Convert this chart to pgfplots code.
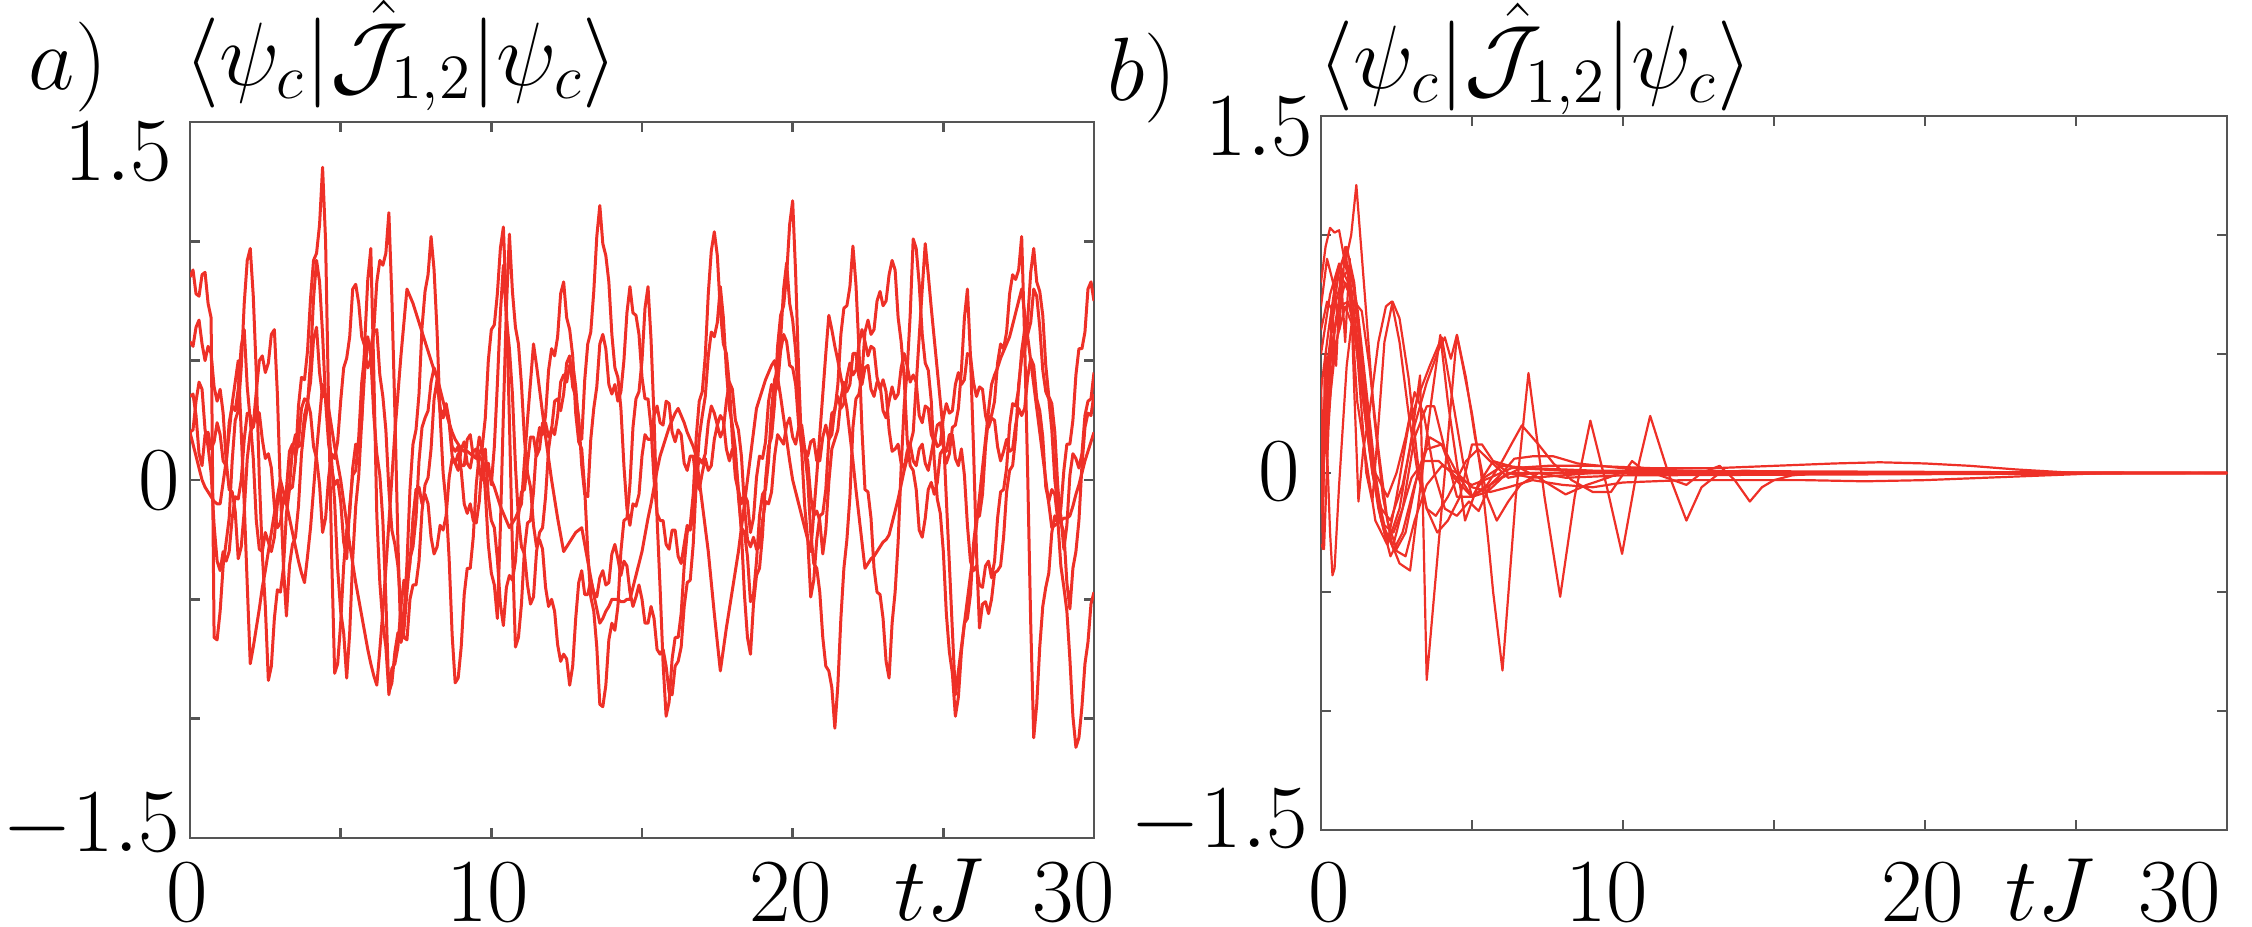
\RequirePackage{fix-cm}
\documentclass[border=0pt]{standalone}
\usepackage{pgfplots}
\usepackage{pgfplotstable}
\pgfplotsset{compat=1.18}
\definecolor{trajred}{RGB}{238,48,39}
\definecolor{framegray}{RGB}{85,85,85}
\newcommand{\lbl}{\fontsize{22.5}{27}\selectfont}
\pgfplotscreateplotcyclelist{redthick}{draw=trajred,line width=0.75pt,mark=none,line join=round\\}
\pgfplotscreateplotcyclelist{redthin}{draw=trajred,line width=0.55pt,mark=none,line join=round\\}

% five trajectories of <J_{1,2}> for the chaotic case, sampled every 0.1 in tJ
\pgfplotstableread{
t A B C D E
0.0 0.85 0.58 0.20 0.35 0.20
0.1 0.88 0.56 0.15 0.36 0.21
0.2 0.78 0.64 0.10 0.27 0.33
0.3 0.77 0.67 0.05 0.11 0.41
0.4 0.86 0.57 0.00 0.06 0.38
0.5 0.87 0.50 -0.03 0.19 0.21
0.6 0.74 0.56 -0.05 0.20 0.14
0.7 0.68 0.53 -0.07 0.13 0.03
0.8 -0.66 0.39 -0.09 0.16 -0.19
0.9 -0.67 0.33 -0.10 0.24 -0.34
1.0 -0.55 0.38 -0.10 0.19 -0.38
1.1 -0.36 0.28 -0.01 0.08 -0.30
1.2 -0.26 0.08 0.08 0.06 -0.34
1.3 -0.16 -0.04 0.20 0.24 -0.30
1.4 0.08 -0.05 0.32 0.31 -0.16
1.5 0.25 -0.13 0.41 0.29 -0.07
1.6 0.29 -0.33 0.50 0.38 -0.08
1.7 0.47 -0.28 0.20 0.56 0.00
1.8 0.74 -0.13 -0.10 0.63 0.17
1.9 0.92 0.09 -0.44 0.39 0.28
2.0 0.97 0.20 -0.77 0.25 0.27
2.1 0.77 0.23 -0.70 0.09 0.22
2.2 0.45 0.37 -0.62 -0.17 0.29
2.3 0.01 0.50 -0.54 -0.29 0.28
2.4 -0.31 0.52 -0.45 -0.30 0.17
2.5 -0.53 0.45 -0.38 -0.22 0.09
2.6 -0.84 0.49 -0.30 -0.26 0.11
2.7 -0.78 0.61 -0.22 -0.30 0.05
2.8 -0.58 0.63 -0.14 -0.24 -0.11
2.9 -0.46 0.36 -0.07 -0.10 -0.20
3.0 -0.47 -0.04 0.00 -0.06 -0.18
3.1 -0.37 -0.36 -0.05 -0.10 -0.08
3.2 -0.14 -0.57 -0.10 -0.04 -0.09
3.3 -0.04 -0.36 -0.16 0.12 -0.03
3.4 -0.03 -0.27 -0.22 0.15 0.13
3.5 0.08 -0.24 -0.28 0.10 0.19
3.6 0.31 -0.11 -0.34 0.16 0.14
3.7 0.43 0.11 -0.39 0.30 0.15
3.8 0.42 0.23 -0.43 0.34 0.27
3.9 0.54 0.31 -0.32 0.33 0.33
4.0 0.76 0.50 -0.20 0.41 0.28
4.1 0.92 0.76 -0.04 0.59 0.14
4.2 0.95 0.92 0.12 0.64 0.09
4.3 1.07 0.83 0.26 0.45 -0.02
4.4 1.31 0.61 0.40 0.35 -0.22
4.5 1.00 0.33 0.35 0.35 -0.16
4.6 0.31 0.15 0.30 0.24 0.01
4.7 -0.31 0.08 0.22 0.05 0.11
4.8 -0.81 -0.09 0.14 -0.02 0.09
4.9 -0.77 -0.37 0.07 0.00 0.16
5.0 -0.60 -0.55 0.00 -0.09 0.33
5.1 -0.36 -0.64 -0.09 -0.26 0.47
5.2 -0.21 -0.83 -0.18 -0.33 0.51
5.3 -0.14 -0.64 -0.27 -0.11 0.60
5.4 0.05 -0.33 -0.35 0.02 0.80
5.5 0.15 -0.11 -0.43 0.04 0.82
5.6 0.14 0.02 -0.50 0.18 0.74
5.7 0.25 0.25 -0.57 0.41 0.60
5.8 0.46 0.58 -0.64 0.53 0.56
5.9 0.57 0.84 -0.71 0.47 0.60
6.0 0.55 0.97 -0.77 0.51 0.52
6.1 0.63 0.45 -0.82 0.62 0.27
6.2 0.83 -0.15 -0.86 0.63 0.11
6.3 0.92 -0.43 -0.71 0.44 0.02
6.4 0.90 -0.60 -0.55 0.35 -0.17
6.5 0.95 -0.70 -0.37 0.21 -0.50
6.6 1.12 -0.89 -0.18 -0.04 -0.90
6.7 0.76 -0.85 0.01 -0.21 -0.79
6.8 0.28 -0.72 0.20 -0.27 -0.77
6.9 -0.26 -0.64 0.36 -0.36 -0.70
7.0 -0.68 -0.68 0.52 -0.54 -0.53
7.1 -0.58 -0.63 0.66 -0.66 -0.42
7.2 -0.35 -0.47 0.80 -0.67 -0.43
7.3 -0.04 -0.33 0.77 -0.50 -0.35
7.4 0.15 -0.28 0.74 -0.44 -0.16
7.5 0.21 -0.16 0.70 -0.44 -0.04
7.6 0.36 0.08 0.66 -0.34 -0.03
7.7 0.64 0.22 0.62 -0.13 -0.10
7.8 0.79 0.26 0.58 -0.02 -0.06
7.9 0.86 0.29 0.54 0.01 -0.10
8.0 1.02 0.41 0.50 0.13 -0.24
8.1 0.88 0.47 0.46 0.34 -0.31
8.2 0.62 0.43 0.43 0.42 -0.28
8.3 0.27 0.30 0.38 0.29 -0.19
8.4 0.03 0.27 0.33 0.26 -0.21
8.5 -0.10 0.32 0.28 0.30 -0.15
8.6 -0.33 0.25 0.24 0.24 0.01
8.7 -0.65 0.14 0.20 0.10 0.09
8.8 -0.85 0.12 0.17 0.07 0.07
8.9 -0.83 0.14 0.15 0.11 0.04
9.0 -0.70 0.06 0.13 0.04 0.13
9.1 -0.48 0.06 0.12 -0.10 0.16
9.2 -0.37 0.17 0.12 -0.14 0.07
9.3 -0.37 0.19 0.11 -0.10 0.05
9.4 -0.24 0.10 0.10 -0.17 0.12
9.5 -0.02 0.09 0.10 -0.18 0.13
9.6 0.11 0.18 0.10 -0.09 0.04
9.7 0.14 0.13 0.08 0.08 0.00
9.8 0.26 -0.05 0.05 0.13 0.06
9.9 0.50 -0.27 0.03 -0.07 0.07
10.0 0.63 -0.39 0.00 -0.17 -0.02
10.1 0.65 -0.44 -0.03 -0.20 0.14
10.2 0.78 -0.58 -0.07 -0.33 0.40
10.3 0.97 -0.20 -0.11 -0.52 0.70
10.4 1.06 0.28 -0.14 -0.61 0.90
10.5 0.72 0.72 -0.17 -0.45 0.68
10.6 0.25 1.03 -0.20 -0.40 0.55
10.7 -0.29 0.79 -0.18 -0.42 0.36
10.8 -0.70 0.64 -0.16 -0.34 0.06
10.9 -0.66 0.57 -0.13 -0.15 -0.16
11.0 -0.52 0.40 -0.10 -0.05 -0.28
11.1 -0.29 0.17 0.08 -0.04 -0.31
11.2 -0.18 0.03 0.25 0.07 -0.44
11.3 -0.17 -0.03 0.41 0.18 -0.52
11.4 -0.05 -0.19 0.57 0.18 -0.49
11.5 0.14 -0.28 0.48 0.10 -0.30
11.6 0.22 -0.25 0.38 0.13 -0.22
11.7 0.19 -0.29 0.28 0.24 -0.20
11.8 0.27 -0.45 0.18 0.24 -0.07
11.9 0.46 -0.53 0.09 0.18 0.13
12.0 0.55 -0.50 0.00 0.21 0.22
12.1 0.52 -0.55 -0.08 0.33 0.19
12.2 0.60 -0.69 -0.16 0.34 0.27
12.3 0.78 -0.76 -0.23 0.29 0.41
12.4 0.83 -0.73 -0.30 0.36 0.44
12.5 0.68 -0.75 -0.28 0.49 0.41
12.6 0.63 -0.86 -0.26 0.52 0.48
12.7 0.52 -0.78 -0.24 0.39 0.49
12.8 0.28 -0.58 -0.22 0.35 0.39
12.9 0.16 -0.43 -0.21 0.26 0.23
13.0 0.13 -0.38 -0.20 0.06 0.17
13.1 -0.04 -0.48 -0.27 -0.06 0.42
13.2 -0.30 -0.48 -0.34 -0.07 0.57
13.3 -0.49 -0.42 -0.41 0.17 0.62
13.4 -0.55 -0.47 -0.48 0.30 0.79
13.5 -0.70 -0.49 -0.54 0.39 1.02
13.6 -0.94 -0.41 -0.60 0.57 1.15
13.7 -0.95 -0.38 -0.58 0.61 0.99
13.8 -0.86 -0.44 -0.55 0.55 0.94
13.9 -0.67 -0.43 -0.53 0.40 0.83
14.0 -0.60 -0.31 -0.50 0.36 0.61
14.1 -0.63 -0.27 -0.50 0.40 0.47
14.2 -0.53 -0.33 -0.50 0.33 0.43
14.3 -0.30 -0.40 -0.51 0.37 0.30
14.4 -0.17 -0.34 -0.51 0.50 0.06
14.5 -0.16 -0.36 -0.50 0.70 -0.12
14.6 -0.02 -0.47 -0.50 0.81 -0.19
14.7 0.22 -0.53 -0.45 0.70 -0.10
14.8 0.34 -0.49 -0.40 0.69 -0.11
14.9 0.37 -0.44 -0.35 0.61 -0.06
15.0 0.50 -0.50 -0.30 0.43 0.10
15.1 0.72 -0.60 -0.23 0.34 0.19
15.2 0.81 -0.60 -0.16 0.34 0.17
15.3 0.59 -0.53 -0.10 0.22 0.17
15.4 0.26 -0.58 -0.03 0.00 0.27
15.5 -0.16 -0.71 0.04 -0.14 0.31
15.6 -0.45 -0.73 0.10 -0.17 0.24
15.7 -0.77 -0.71 0.14 -0.17 0.23
15.8 -0.99 -0.78 0.18 -0.27 0.33
15.9 -0.93 -0.89 0.22 -0.29 0.32
16.0 -0.75 -0.90 0.25 -0.21 0.20
16.1 -0.66 -0.78 0.28 -0.21 0.16
16.2 -0.66 -0.76 0.30 -0.32 0.21
16.3 -0.56 -0.70 0.27 -0.35 0.19
16.4 -0.36 -0.53 0.24 -0.27 0.07
16.5 -0.22 -0.43 0.20 -0.19 0.04
16.6 -0.19 -0.42 0.17 -0.21 0.10
16.7 -0.06 -0.27 0.14 -0.15 0.10
16.8 0.18 -0.01 0.10 0.01 -0.01
16.9 0.33 0.18 0.00 0.09 -0.04
17.0 0.37 0.27 -0.10 0.07 0.03
17.1 0.52 0.35 -0.20 0.11 0.09
17.2 0.78 0.52 -0.30 0.24 0.04
17.3 0.96 0.62 -0.43 0.31 0.06
17.4 1.04 0.60 -0.56 0.28 0.17
17.5 0.94 0.66 -0.68 0.23 0.23
17.6 0.71 0.81 -0.80 0.27 0.18
17.7 0.57 0.68 -0.71 0.25 0.21
17.8 0.53 0.46 -0.62 0.13 0.33
17.9 0.40 0.30 -0.54 0.08 0.41
18.0 0.17 0.23 -0.46 0.13 0.38
18.1 0.01 0.13 -0.38 0.10 0.25
18.2 -0.05 -0.07 -0.30 -0.04 0.21
18.3 -0.22 -0.20 -0.20 -0.10 0.10
18.4 -0.48 -0.22 -0.10 -0.06 -0.11
18.5 -0.66 -0.32 0.00 -0.09 -0.25
18.6 -0.73 -0.51 0.10 -0.22 -0.28
18.7 -0.52 -0.48 0.20 -0.16 -0.24
18.8 -0.40 -0.34 0.30 0.01 -0.29
18.9 -0.37 -0.15 0.34 0.10 -0.28
19.0 -0.23 -0.06 0.38 0.09 -0.17
19.1 0.00 -0.04 0.42 0.16 -0.09
19.2 0.14 0.08 0.45 0.33 -0.10
19.3 0.18 0.30 0.48 0.40 -0.05
19.4 0.32 0.42 0.50 0.36 0.10
19.5 0.56 0.46 0.43 0.40 0.19
19.6 0.69 0.59 0.35 0.54 0.17
19.7 0.73 0.80 0.26 0.61 0.15
19.8 0.86 0.91 0.17 0.58 0.23
19.9 1.07 0.74 0.08 0.48 0.26
20.0 1.17 0.67 0.00 0.47 0.18
20.1 0.86 0.54 -0.05 0.40 0.15
20.2 0.45 0.31 -0.10 0.23 0.22
20.3 0.12 0.17 -0.15 0.13 0.23
20.4 -0.11 0.12 -0.20 0.12 0.13
20.5 -0.25 0.00 -0.25 0.08 0.10
20.6 -0.49 -0.22 -0.30 -0.07 0.16
20.7 -0.42 -0.35 -0.14 -0.15 0.17
20.8 -0.25 -0.37 0.02 -0.13 0.08
20.9 -0.15 -0.47 0.19 -0.17 0.08
21.0 -0.14 -0.66 0.36 -0.31 0.18
21.1 -0.04 -0.78 0.53 -0.21 0.23
21.2 0.17 -0.80 0.69 -0.01 0.17
21.3 0.28 -0.87 0.63 0.13 0.19
21.4 0.29 -1.04 0.56 0.17 0.30
21.5 0.40 -0.86 0.50 0.21 0.35
21.6 0.61 -0.58 0.43 0.34 0.30
21.7 0.72 -0.37 0.37 0.41 0.32
21.8 0.73 -0.25 0.30 0.37 0.43
21.9 0.81 -0.07 0.19 0.40 0.49
22.0 0.98 0.22 0.08 0.53 0.44
22.1 0.82 0.34 -0.04 0.53 0.46
22.2 0.55 0.36 -0.15 0.43 0.57
22.3 0.21 0.44 -0.26 0.40 0.63
22.4 -0.04 0.62 -0.37 0.47 0.58
22.5 -0.05 0.67 -0.35 0.48 0.52
22.6 -0.16 0.61 -0.33 0.38 0.56
22.7 -0.37 0.63 -0.32 0.35 0.55
22.8 -0.47 0.75 -0.30 0.41 0.43
22.9 -0.48 0.79 -0.28 0.40 0.38
23.0 -0.58 0.73 -0.26 0.29 0.42
23.1 -0.76 0.75 -0.25 0.26 0.37
23.2 -0.83 0.86 -0.23 0.33 0.21
23.3 -0.60 0.92 -0.18 0.39 0.12
23.4 -0.47 0.88 -0.13 0.34 0.13
23.5 -0.26 0.68 -0.08 0.36 0.15
23.6 0.05 0.58 -0.02 0.47 0.07
23.7 0.31 0.43 0.04 0.53 0.05
23.8 0.46 0.17 0.09 0.48 0.12
23.9 0.69 0.06 0.15 0.41 0.15
24.0 1.01 0.04 0.20 0.44 0.08
24.1 0.97 -0.04 0.40 0.41 0.06
24.2 0.82 -0.21 0.60 0.27 0.13
24.3 0.61 -0.24 0.80 0.24 0.15
24.4 0.49 -0.16 0.99 0.31 0.07
24.5 0.46 -0.04 0.86 0.30 0.04
24.6 0.33 -0.01 0.72 0.19 0.11
24.7 0.08 -0.06 0.59 0.16 0.18
24.8 -0.08 -0.01 0.46 0.23 0.14
24.9 -0.14 0.11 0.33 0.24 0.15
25.0 -0.30 0.13 0.20 0.14 0.26
25.1 -0.56 0.07 -0.08 0.12 0.32
25.2 -0.72 0.11 -0.35 0.19 0.28
25.3 -0.81 0.22 -0.63 0.19 0.29
25.4 -0.99 0.23 -0.90 0.09 0.40
25.5 -0.91 0.30 -0.80 0.06 0.45
25.6 -0.72 0.46 -0.70 0.13 0.40
25.7 -0.60 0.68 -0.60 0.02 0.42
25.8 -0.58 0.80 -0.50 -0.19 0.53
25.9 -0.48 0.52 -0.40 -0.34 0.52
26.0 -0.27 0.14 -0.30 -0.38 0.41
26.1 -0.16 -0.30 -0.19 -0.36 0.35
26.2 -0.15 -0.62 -0.07 -0.44 0.39
26.3 -0.06 -0.52 0.05 -0.45 0.38
26.4 0.14 -0.51 0.17 -0.36 0.27
26.5 0.26 -0.56 0.29 -0.34 0.22
26.6 0.27 -0.50 0.40 -0.41 0.26
26.7 0.33 -0.39 0.44 -0.34 0.25
26.8 0.49 -0.38 0.47 -0.16 0.14
26.9 0.57 -0.36 0.51 -0.05 0.08
27.0 0.55 -0.24 0.54 -0.04 0.12
27.1 0.62 -0.05 0.57 0.05 0.17
27.2 0.78 0.04 0.60 0.23 0.12
27.3 0.86 0.06 0.65 0.32 0.13
27.4 0.84 0.18 0.70 0.31 0.23
27.5 0.88 0.40 0.75 0.38 0.30
27.6 1.02 0.51 0.80 0.54 0.27
27.7 0.58 0.54 0.70 0.63 0.30
27.8 0.02 0.67 0.60 0.61 0.43
27.9 -0.60 0.87 0.50 0.66 0.51
28.0 -1.08 0.97 0.40 0.80 0.48
28.1 -0.94 0.83 0.30 0.77 0.34
28.2 -0.70 0.79 0.20 0.64 0.29
28.3 -0.53 0.69 0.10 0.46 0.18
28.4 -0.45 0.48 0.00 0.37 -0.03
28.5 -0.39 0.35 -0.10 0.34 -0.09
28.6 -0.22 0.32 -0.20 0.21 -0.04
28.7 -0.15 0.20 -0.19 0.00 -0.06
28.8 -0.18 -0.03 -0.18 -0.11 -0.17
28.9 -0.12 -0.18 -0.17 -0.15 -0.36
29.0 0.04 -0.22 -0.16 -0.29 -0.45
29.1 0.15 -0.43 -0.16 -0.19 -0.55
29.2 0.15 -0.54 -0.15 0.02 -0.75
29.3 0.25 -0.37 -0.11 0.11 -0.99
29.4 0.44 -0.30 -0.06 0.09 -1.12
29.5 0.55 -0.17 -0.02 0.05 -1.08
29.6 0.55 0.06 0.03 0.11 -0.95
29.7 0.62 0.22 0.08 0.27 -0.77
29.8 0.80 0.28 0.12 0.33 -0.68
29.9 0.83 0.27 0.16 0.34 -0.52
30.0 0.75 0.36 0.20 0.45 -0.47
}\chaotic

\pgfplotsset{
  panel/.style={
    scale only axis, anchor=south west,
    xmin=0, xmax=30, ymin=-1.5, ymax=1.5,
    xtick={0,5,...,30}, ytick={-1.5,-1,...,1.5},
    xticklabel=\empty, yticklabel=\empty,
    tick align=inside, tick pos=both, major tick length=2.6pt,
    axis line style={draw=framegray, line width=0.7pt},
    tick style={draw=framegray, line width=0.7pt},
    clip=true,
  },
}

\begin{document}
\begin{tikzpicture}[every node/.style={inner sep=0pt, outer sep=0pt, font=\lbl}]
\path[use as bounding box] (0,0) rectangle (563pt,231.75pt);

% a) chaotic dynamics
\begin{axis}[panel, cycle list name=redthick, at={(47.5pt,22.25pt)}, width=226pt, height=179pt]
\addplot table[x=t, y=A] {\chaotic};
\addplot table[x=t, y=B] {\chaotic};
\addplot table[x=t, y=C] {\chaotic};
\addplot table[x=t, y=D] {\chaotic};
\addplot table[x=t, y=E] {\chaotic};
\end{axis}

% b) decaying dynamics
\begin{axis}[panel, cycle list name=redthin, at={(330.25pt,24.25pt)}, width=226.5pt, height=178.5pt]
\addplot coordinates {(0,0.35) (0.25,0.6) (0.5,0.82) (0.75,0.9) (1.0,0.78) (1.3,0.45) (1.6,0.1) (1.9,-0.15) (2.2,-0.3) (2.6,-0.15) (3.0,0.15) (3.28,0.41) (3.5,-0.87) (3.9,-0.29) (4.5,0.58) (5.0,0.25) (5.3,0.0) (5.55,-0.3) (5.7,-0.5) (6.01,-0.83) (6.45,-0.1) (6.87,0.42) (7.4,-0.1) (7.92,-0.52) (8.4,-0.1) (8.92,0.22) (9.45,-0.05) (9.97,-0.34) (10.45,0.0) (10.9,0.24) (11.5,0.0) (12.1,-0.2) (12.6,-0.06) (13.2,0.0) (14,0.01) (16,0) (30,0)};
\addplot coordinates {(0,0.80) (0.15,0.95) (0.3,1.03) (0.45,1.01) (0.6,1.02) (0.8,0.88) (1.0,1.0) (1.17,1.21) (1.45,0.75) (1.75,0.25) (2.05,-0.1) (2.35,-0.3) (2.6,-0.38) (2.95,-0.41) (3.3,-0.05) (3.65,0.3) (3.95,0.58) (4.2,0.3) (4.6,-0.05) (4.77,-0.2) (5.2,-0.05) (5.7,0.05) (6.5,0.02) (8,0.01) (12,0) (30,0)};
\addplot coordinates {(0,-0.3) (0.1,-0.32) (0.25,0.2) (0.45,0.6) (0.7,0.82) (0.95,0.86) (1.2,0.7) (1.5,0.35) (1.8,0.0) (2.1,-0.25) (2.4,-0.3) (2.7,-0.15) (3.1,0.15) (3.5,0.28) (3.75,0.28) (4.1,0.1) (4.5,-0.1) (5.0,-0.1) (5.4,-0.02) (6.0,0.03) (7.0,0.02) (9,0.01) (30,0)};
\addplot coordinates {(0,0.25) (0.06,-0.32) (0.12,0.4) (0.2,0.1) (0.3,-0.25) (0.38,-0.43) (0.45,-0.4) (0.6,-0.05) (0.85,0.45) (1.1,0.72) (1.35,0.68) (1.6,0.45) (1.9,0.1) (2.2,-0.2) (2.5,-0.32) (2.8,-0.25) (3.2,0.0) (3.6,0.15) (4.0,0.12) (4.4,-0.02) (5.0,-0.1) (5.6,-0.05) (6.2,0.0) (8,0.0) (30,0)};
\addplot coordinates {(0,0.5) (0.3,0.75) (0.6,0.88) (0.9,0.8) (1.2,0.5) (1.5,0.0) (1.7,-0.12) (1.9,0.2) (2.1,0.55) (2.37,0.72) (2.6,0.65) (2.9,0.4) (3.2,0.05) (3.5,-0.15) (3.8,-0.18) (4.2,-0.1) (4.8,0.05) (5.2,0.1) (5.6,0.05) (6.2,-0.02) (7,0.0) (30,0)};
\addplot coordinates {(0,0.1) (0.2,0.45) (0.45,0.7) (0.7,0.82) (0.95,0.75) (1.2,0.5) (1.5,0.2) (1.8,0.0) (2.2,-0.1) (2.5,0.0) (2.8,0.15) (3.1,0.34) (3.4,0.25) (3.75,0.0) (4.1,-0.15) (4.5,-0.18) (4.9,-0.12) (5.22,-0.16) (5.6,-0.05) (6.0,0.0) (6.4,0.06) (7.0,0.07) (7.7,0.07) (8.5,0.04) (10,0.02) (12,0.01) (15,0) (30,0)};
\addplot coordinates {(0,0.6) (0.2,0.72) (0.4,0.68) (0.6,0.85) (0.85,0.95) (1.1,0.8) (1.4,0.4) (1.7,0.0) (2.0,-0.15) (2.3,-0.2) (2.7,-0.05) (3.1,0.2) (3.5,0.38) (3.9,0.52) (4.1,0.57) (4.3,0.48) (4.5,0.58) (4.8,0.4) (5.1,0.15) (5.5,-0.1) (5.82,-0.2) (6.2,-0.12) (6.6,-0.05) (7.2,0.0) (8.1,-0.02) (10,-0.01) (30,0)};
\addplot coordinates {(0,0.4) (0.08,-0.1) (0.15,0.5) (0.25,0.2) (0.35,0.7) (0.5,0.45) (0.65,0.85) (0.8,0.55) (0.95,0.9) (1.1,0.35) (1.24,-0.12) (1.4,0.1) (1.6,0.25) (1.9,0.55) (2.15,0.7) (2.34,0.72) (2.6,0.55) (2.9,0.25) (3.2,0.0) (3.5,-0.15) (3.85,-0.25) (4.2,-0.2) (4.6,-0.1) (5.0,0.12) (5.33,0.12) (5.7,0.05) (6.2,0.0) (7,-0.02) (9,0.0) (30,0)};
\addplot coordinates {(0,0.7) (0.2,0.9) (0.4,0.8) (0.6,0.6) (0.8,0.95) (1.0,0.7) (1.2,0.3) (1.5,0.05) (1.8,-0.2) (2.19,-0.3) (2.5,-0.1) (2.9,0.2) (3.3,0.35) (3.6,0.45) (4.0,0.57) (4.3,0.35) (4.7,0.05) (5.0,-0.1) (5.5,-0.05) (6.0,0.05) (6.3,0.12) (6.65,0.2) (7.2,0.12) (7.7,0.04) (8.3,-0.03) (9.0,-0.08) (9.6,-0.08) (10.3,0.05) (10.8,0.0) (12,0.0) (30,0)};
\addplot coordinates {(0,0.15) (0.3,0.5) (0.6,0.7) (0.9,0.72) (1.2,0.55) (1.5,0.25) (1.8,-0.05) (2.1,-0.22) (2.4,-0.25) (2.7,-0.15) (3.0,-0.02) (3.4,0.05) (3.9,0.05) (4.5,-0.02) (5.0,-0.05) (5.6,-0.02) (6.3,0.02) (7.5,0.03) (9,0.03) (11,0.02) (13,0.02) (15,0.03) (17,0.04) (18.5,0.045) (20,0.04) (21.5,0.03) (23,0.015) (25,0.0) (30,0)};
\addplot coordinates {(0,-0.1) (0.2,0.2) (0.5,0.55) (0.8,0.7) (1.1,0.6) (1.4,0.3) (1.7,0.0) (2.0,-0.2) (2.4,-0.32) (2.8,-0.35) (3.1,-0.2) (3.5,-0.05) (4.0,0.03) (4.5,0.0) (5.0,-0.06) (5.6,-0.08) (6.2,-0.06) (7.0,-0.03) (8.0,-0.05) (9.0,-0.06) (10,-0.04) (12,-0.03) (14,-0.03) (16,-0.03) (18,-0.035) (20,-0.03) (22,-0.02) (24,-0.01) (26,0.0) (30,0)};
\addplot coordinates {(0,0.0) (0.2,0.35) (0.5,0.65) (0.8,0.8) (1.1,0.75) (1.4,0.4) (1.7,0.05) (2.0,-0.2) (2.3,-0.35) (2.7,-0.25) (3.1,-0.05) (3.5,0.1) (4.0,0.12) (4.5,0.0) (5.0,-0.1) (5.5,-0.08) (6.0,-0.02) (6.6,0.02) (7.2,-0.02) (8.1,-0.09) (8.8,-0.05) (9.5,-0.02) (10.3,0.02) (11,0.0) (12.1,-0.05) (12.6,0.0) (13.2,0.03) (13.7,-0.03) (14.2,-0.12) (14.6,-0.06) (15.0,-0.03) (15.6,-0.01) (16.5,0.0) (30,0)};
\end{axis}

% panel letters and titles
\node[anchor=base] at (17pt,209.4pt) {$a)$};
\node[anchor=base] at (100.25pt,210.4pt) {$\langle\psi_c|\hat{\mathcal{J}}_{1,2}|\psi_c\rangle$};
\node[anchor=base] at (285.5pt,206.6pt) {$b)$};
\node[anchor=base] at (383.9pt,209.6pt) {$\langle\psi_c|\hat{\mathcal{J}}_{1,2}|\psi_c\rangle$};

% y tick labels
\node[anchor=east] at (43pt,193.75pt) {$1.5$};
\node[anchor=east] at (45pt,111.5pt) {$0$};
\node[anchor=east] at (45pt,25.25pt) {$-1.5$};
\node[anchor=east] at (328.25pt,200pt) {$1.5$};
\node[anchor=east] at (325pt,113.75pt) {$0$};
\node[anchor=east] at (327pt,26.25pt) {$-1.5$};

% x tick labels and axis labels
\node[anchor=base] at (46.75pt,1.3pt) {$0$};
\node[anchor=base] at (122pt,1.3pt) {$10$};
\node[anchor=base] at (197.75pt,1.3pt) {$20$};
\node[anchor=base] at (234.75pt,1.6pt) {$tJ$};
\node[anchor=base] at (268.5pt,1.3pt) {$30$};
\node[anchor=base] at (332.25pt,1.3pt) {$0$};
\node[anchor=base] at (401.75pt,1.3pt) {$10$};
\node[anchor=base] at (480.75pt,1.3pt) {$20$};
\node[anchor=base] at (512.5pt,1.6pt) {$tJ$};
\node[anchor=base] at (545pt,1.3pt) {$30$};
\end{tikzpicture}
\end{document}
